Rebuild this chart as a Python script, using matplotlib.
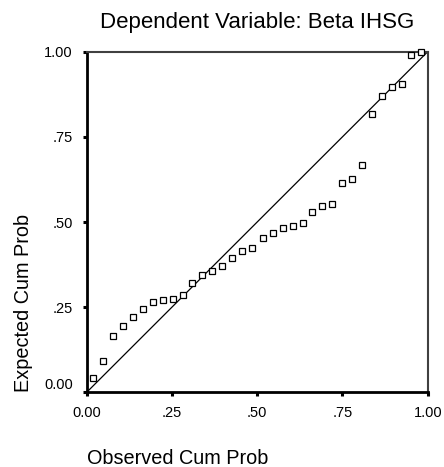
import matplotlib
matplotlib.use("Agg")
import matplotlib.pyplot as plt

plt.rcParams["font.family"] = ["Liberation Sans", "DejaVu Sans"]

# observed vs expected cumulative probabilities (P-P plot of residuals)
observed = [0.019, 0.049, 0.078, 0.106, 0.135, 0.164, 0.194, 0.223, 0.252, 0.282,
            0.310, 0.339, 0.368, 0.398, 0.425, 0.455, 0.484, 0.516, 0.546, 0.575,
            0.604, 0.634, 0.662, 0.691, 0.720, 0.750, 0.779, 0.808, 0.837, 0.866,
            0.895, 0.924, 0.952, 0.980]
expected = [0.043, 0.092, 0.166, 0.196, 0.220, 0.245, 0.266, 0.271, 0.275, 0.287,
            0.320, 0.344, 0.357, 0.370, 0.394, 0.416, 0.424, 0.452, 0.469, 0.481,
            0.489, 0.498, 0.530, 0.548, 0.552, 0.614, 0.627, 0.668, 0.817, 0.870,
            0.895, 0.904, 0.991, 0.999]
ref_line = [0.0, 1.0]
ticks = [0.0, 0.25, 0.5, 0.75, 1.0]
tick_labels = ["0.00", ".25", ".50", ".75", "1.00"]

fig = plt.figure(figsize=(4.44, 4.67), dpi=100)
ax = fig.add_axes([86.7 / 444, 74.7 / 467, 341 / 444, 340.6 / 467])

ax.plot(ref_line, ref_line, color="black", linewidth=0.9, zorder=2)
ax.plot(observed, expected, linestyle="none", marker="s", markersize=4.2,
        markerfacecolor="white", markeredgecolor="black", markeredgewidth=0.9,
        zorder=3, clip_on=False)

ax.set_xlim(0, 1)
ax.set_ylim(0, 1)
ax.set_xticks(ticks)
ax.set_xticklabels(tick_labels)
ax.set_yticks(ticks)
ax.set_yticklabels(tick_labels)
ax.tick_params(direction="out", length=3, width=2.2, labelsize=10.5, pad=7, color="black")
ax.yaxis.get_major_ticks()[0].label1.set_verticalalignment("bottom")

for side in ["left", "bottom"]:
    ax.spines[side].set_linewidth(2)
    ax.spines[side].set_color("black")
for side in ["top", "right"]:
    ax.spines[side].set_linewidth(1.5)
    ax.spines[side].set_color("#404040")

ax.set_title("Dependent Variable: Beta IHSG", fontsize=16, pad=17)
ax.set_xlabel("Observed Cum Prob", fontsize=14.3, ha="left", va="baseline")
ax.xaxis.set_label_coords(0.0, -0.2105)
ax.set_ylabel("Expected Cum Prob", fontsize=14.3, ha="left", va="bottom")
ax.yaxis.set_label_coords(-0.157, 0.0)

fig.savefig("out.png", dpi=100)
